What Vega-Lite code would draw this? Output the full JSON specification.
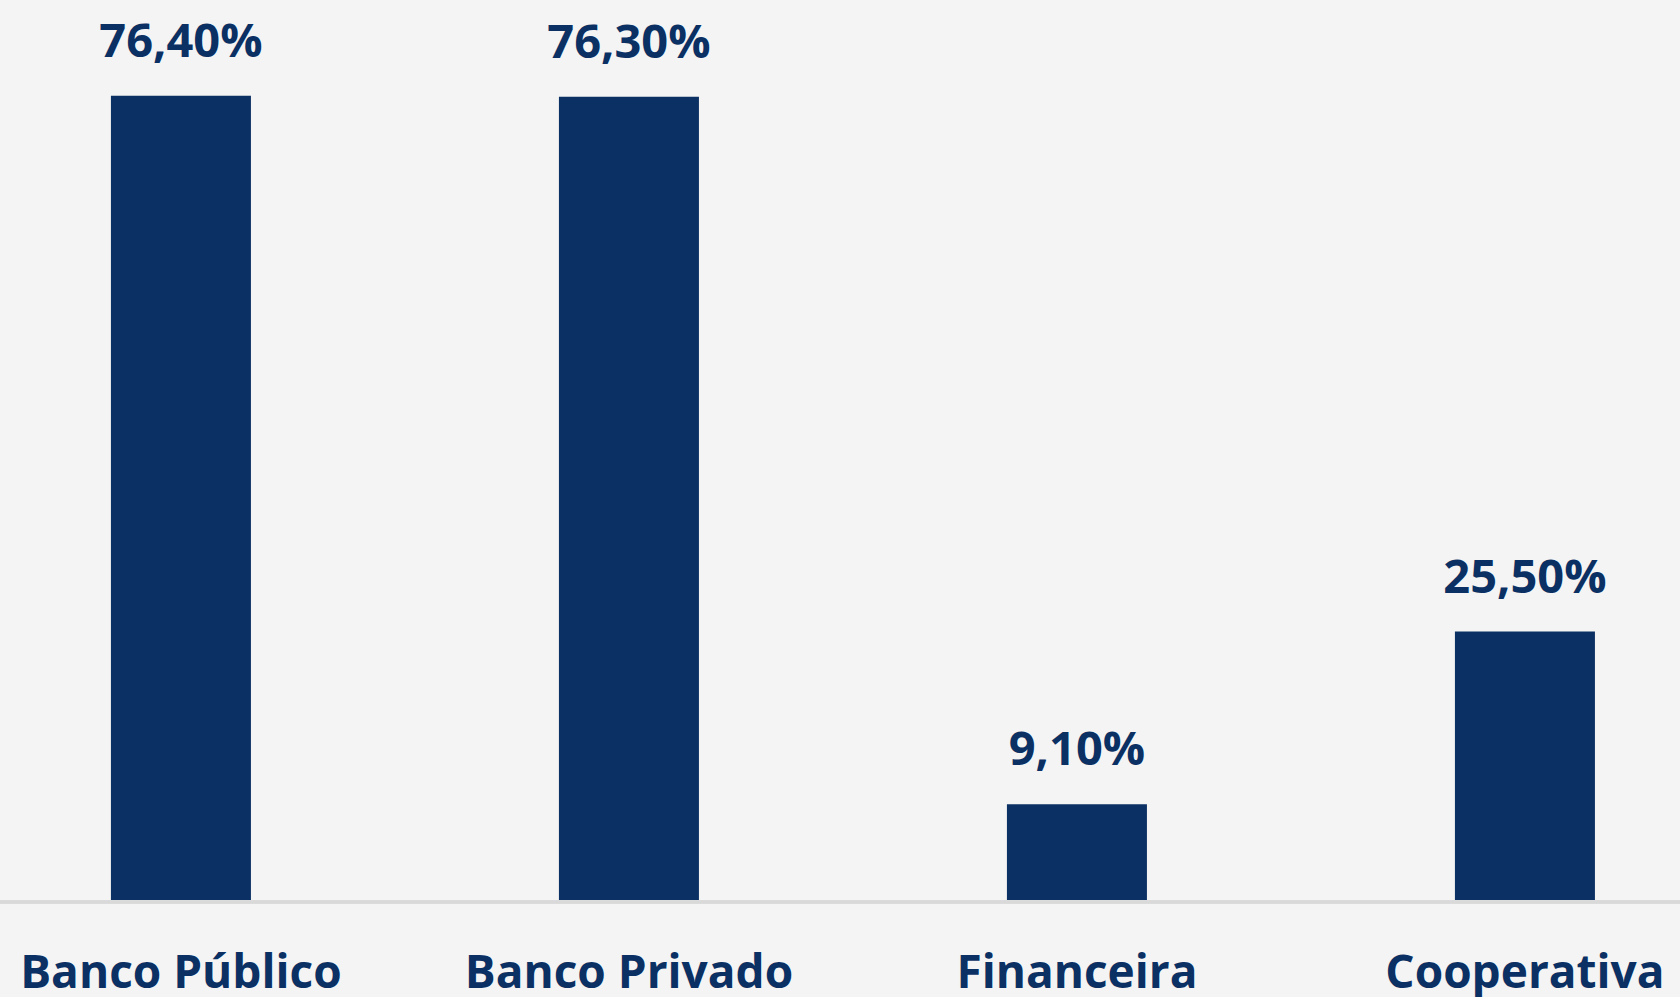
{
  "$schema": "https://vega.github.io/schema/vega-lite/v6.json",
  "width": 1680,
  "height": 900,
  "autosize": {"type": "none"},
  "padding": {"left": 0, "right": 0, "top": 0, "bottom": 97},
  "background": "#f4f4f4",
  "config": {"view": {"stroke": null}},
  "data": {
    "values": [
      {"categoria": "Banco Público", "valor": 76.4, "rotulo": "76,40%"},
      {"categoria": "Banco Privado", "valor": 76.3, "rotulo": "76,30%"},
      {"categoria": "Financeira", "valor": 9.1, "rotulo": "9,10%"},
      {"categoria": "Cooperativa", "valor": 25.5, "rotulo": "25,50%"}
    ]
  },
  "encoding": {
    "x": {
      "field": "categoria",
      "type": "nominal",
      "sort": null,
      "scale": {"paddingInner": 0.6875, "paddingOuter": 0.21875, "align": 0.566},
      "axis": {
        "title": null,
        "domain": false,
        "ticks": false,
        "tickSize": 0,
        "labelAngle": 0,
        "labelLimit": 0,
        "labelOverlap": false,
        "labelFont": "Open Sans",
        "labelFontWeight": "bold",
        "labelFontSize": 46,
        "labelColor": "#0b3063",
        "labelBaseline": "alphabetic",
        "labelPadding": 87
      }
    },
    "y": {
      "field": "valor",
      "type": "quantitative",
      "scale": {"domain": [0, 85.5]},
      "axis": null
    }
  },
  "layer": [
    {"mark": {"type": "bar", "color": "#0b3063"}},
    {
      "mark": {"type": "rule", "color": "#d9d9d9", "strokeWidth": 3, "yOffset": 2},
      "encoding": {"x": null, "y": {"datum": 0, "type": "quantitative"}}
    },
    {
      "mark": {
        "type": "text",
        "font": "Open Sans",
        "fontWeight": "bold",
        "fontSize": 47,
        "color": "#0b3063",
        "baseline": "alphabetic",
        "dy": -39
      },
      "encoding": {"text": {"field": "rotulo"}}
    }
  ]
}
